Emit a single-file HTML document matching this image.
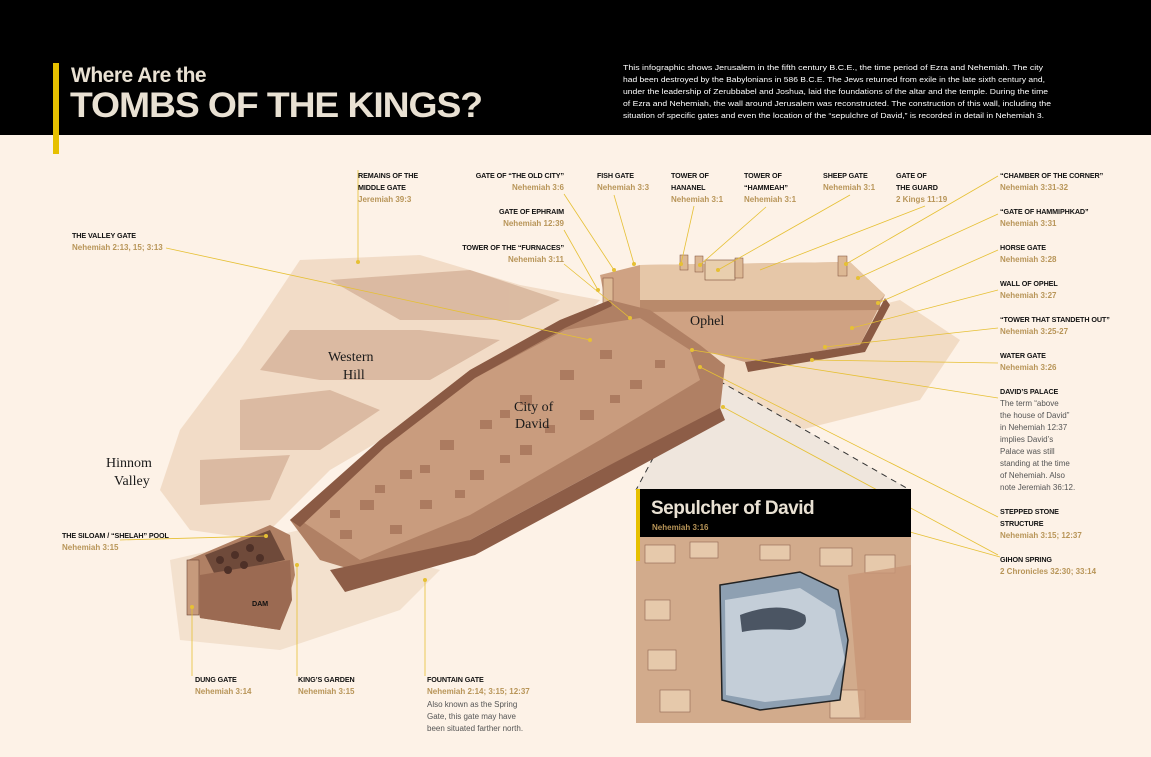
<!DOCTYPE html>
<html><head><meta charset="utf-8"><style>
html,body{margin:0;padding:0;background:#fdf2e7;}
svg{display:block}
.h{font-family:"Liberation Sans",sans-serif;font-weight:bold;font-size:7.2px;fill:#111;letter-spacing:-0.1px}
.r{font-family:"Liberation Sans",sans-serif;font-weight:bold;font-size:8px;fill:#b89558}
.b{font-family:"Liberation Sans",sans-serif;font-size:8px;fill:#555}
.p{font-family:"Liberation Serif",serif;font-size:14px;fill:#1a1a1a}
.l{stroke:#e6c034;stroke-width:0.8;fill:none}
.d{fill:#e6c034}
</style></head><body>
<svg width="1151" height="757" viewBox="0 0 1151 757" xmlns="http://www.w3.org/2000/svg">
<rect width="1151" height="757" fill="#fdf2e7"/>
<rect width="1151" height="135" fill="#000"/>
<rect x="53" y="63" width="6" height="91" fill="#e6c000"/>
<text x="71" y="82" font-family="Liberation Sans,sans-serif" font-weight="bold" font-size="21" fill="#e9e1d3" letter-spacing="-0.5">Where Are the</text>
<text x="70" y="117" font-family="Liberation Sans,sans-serif" font-weight="bold" font-size="35" fill="#e9e1d3" letter-spacing="-1" textLength="412" lengthAdjust="spacingAndGlyphs">TOMBS OF THE KINGS?</text>
<g font-family="Liberation Sans,sans-serif" font-size="7.6" fill="#fff">
<text x="623" y="70" textLength="420" lengthAdjust="spacingAndGlyphs">This infographic shows Jerusalem in the fifth century B.C.E., the time period of Ezra and Nehemiah. The city</text>
<text x="623" y="82" textLength="422" lengthAdjust="spacingAndGlyphs">had been destroyed by the Babylonians in 586 B.C.E. The Jews returned from exile in the late sixth century and,</text>
<text x="623" y="94" textLength="425" lengthAdjust="spacingAndGlyphs">under the leadership of Zerubbabel and Joshua, laid the foundations of the altar and the temple. During the time</text>
<text x="623" y="106" textLength="428" lengthAdjust="spacingAndGlyphs">of Ezra and Nehemiah, the wall around Jerusalem was reconstructed. The construction of this wall, including the</text>
<text x="623" y="118" textLength="421" lengthAdjust="spacingAndGlyphs">situation of specific gates and even the location of the “sepulchre of David,” is recorded in detail in Nehemiah 3.</text>
</g>

<!-- terrain -->
<path d="M300,260 L420,255 L520,285 L600,300 L560,340 L450,400 L330,470 L260,540 L190,530 L160,490 L180,430 L240,350 Z" fill="#ecd3b9" opacity="0.7"/>
<g fill="#c9a084" opacity="0.55">
<path d="M330,280 L470,270 L560,300 L520,320 L400,320 Z"/>
<path d="M290,330 L420,330 L500,340 L430,380 L320,380 L260,370 Z"/>
<path d="M240,400 L330,390 L380,410 L320,450 L240,450 Z"/>
<path d="M200,460 L290,455 L270,500 L200,505 Z"/>
</g>
<path d="M700,350 L900,300 L960,340 L920,400 L800,430 L730,420 Z" fill="#efd6bd" opacity="0.8"/>
<path d="M170,560 L300,530 L440,570 L400,610 L280,650 L180,640 Z" fill="#ead0b6" opacity="0.5"/>
<!-- callout cone -->
<path d="M700,370 L910,490 L636,490 Z" fill="#efe6dd"/>
<path d="M700,370 L910,490 M700,370 L636,490" stroke="#333" stroke-width="1" stroke-dasharray="6,5" fill="none"/>

<!-- temple enclosure -->
<path d="M600,275 L640,265 L850,262 L885,295 L860,345 L745,362 L700,350 L640,335 L605,300 Z" fill="#cfa283"/>
<path d="M640,265 L850,262 L885,295 L880,300 L640,300 Z" fill="#e6c7a8"/>
<path d="M640,300 L880,300 L880,310 L640,312 Z" fill="#b98a6b"/>
<path d="M745,362 L860,345 L885,298 L890,305 L865,352 L748,372 Z" fill="#8a5a44"/>
<rect x="705" y="260" width="30" height="20" fill="#e9cfae" stroke="#7a4b36" stroke-width="0.6"/>
<rect x="680" y="255" width="8" height="15" fill="#dcb894" stroke="#7a4b36" stroke-width="0.5"/>
<rect x="695" y="256" width="8" height="16" fill="#dcb894" stroke="#7a4b36" stroke-width="0.5"/>
<rect x="735" y="258" width="8" height="20" fill="#dcb894" stroke="#7a4b36" stroke-width="0.5"/>
<rect x="838" y="256" width="9" height="20" fill="#dcb894" stroke="#7a4b36" stroke-width="0.5"/>
<rect x="603" y="278" width="10" height="25" fill="#dcb894" stroke="#7a4b36" stroke-width="0.5"/>

<!-- main city -->
<path d="M290,520 L380,440 L470,370 L560,320 L610,300 L650,310 L700,345 L725,365 L720,410 L600,470 L470,540 L370,575 L320,560 Z" fill="#b08064"/>
<path d="M300,520 L385,445 L475,378 L565,330 L640,318 L690,350 L700,380 L600,440 L470,515 L360,560 Z" fill="#c99c7e"/>
<g fill="#a06e54" opacity="0.7">
<rect x="360" y="500" width="14" height="10"/><rect x="400" y="470" width="12" height="9"/><rect x="440" y="440" width="14" height="10"/><rect x="480" y="420" width="12" height="9"/><rect x="520" y="395" width="12" height="10"/><rect x="560" y="370" width="14" height="10"/><rect x="600" y="350" width="12" height="9"/><rect x="420" y="500" width="12" height="9"/><rect x="470" y="470" width="14" height="10"/><rect x="520" y="445" width="12" height="10"/><rect x="580" y="410" width="14" height="10"/><rect x="630" y="380" width="12" height="9"/><rect x="340" y="530" width="12" height="9"/><rect x="390" y="525" width="12" height="9"/>
<rect x="330" y="510" width="10" height="8"/><rect x="375" y="485" width="10" height="8"/><rect x="455" y="490" width="10" height="8"/><rect x="500" y="455" width="10" height="8"/><rect x="545" y="425" width="10" height="8"/><rect x="610" y="395" width="10" height="8"/><rect x="655" y="360" width="10" height="8"/><rect x="500" y="410" width="10" height="8"/><rect x="420" y="465" width="10" height="8"/>
</g>
<path d="M330,570 L470,540 L600,470 L720,408 L725,420 L605,485 L475,555 L345,592 Z" fill="#8d5d47"/>
<path d="M290,520 L380,440 L470,370 L560,320 L610,300 L612,306 L565,328 L475,378 L385,447 L300,527 Z" fill="#8a5a44"/>
<!-- dam pool -->
<path d="M188,560 L270,525 L290,535 L295,575 L280,630 L200,618 Z" fill="#b08064"/>
<path d="M205,555 L270,530 L285,560 L215,575 Z" fill="#6f4a3a"/>
<path d="M200,575 L290,560 L292,600 L280,630 L200,618 Z" fill="#9b6a52"/>
<rect x="187" y="560" width="12" height="55" fill="#c69a7c" stroke="#6d4535" stroke-width="0.6"/>
<g fill="#4e3027"><circle cx="220" cy="560" r="4"/><circle cx="235" cy="555" r="4"/><circle cx="250" cy="548" r="4"/><circle cx="228" cy="570" r="4"/><circle cx="244" cy="565" r="4"/><circle cx="260" cy="558" r="4"/></g>

<!-- place names -->
<text class="p" x="690" y="325">Ophel</text>
<text class="p" x="328" y="361">Western</text><text class="p" x="343" y="379">Hill</text>
<text class="p" x="514" y="411">City of</text><text class="p" x="515" y="428">David</text>
<text class="p" x="106" y="467">Hinnom</text><text class="p" x="114" y="485">Valley</text>
<text class="h" x="252" y="606">DAM</text>

<!-- leader lines -->
<g class="l">
<line x1="358" y1="170" x2="358" y2="262"/>
<line x1="564" y1="194" x2="614" y2="270"/>
<line x1="614" y1="195" x2="634" y2="264"/>
<line x1="694" y1="206" x2="681" y2="264"/>
<line x1="766" y1="207" x2="700" y2="265"/>
<line x1="850" y1="195" x2="718" y2="270"/>
<line x1="925" y1="206" x2="760" y2="270"/>
<line x1="998" y1="176" x2="846" y2="264"/>
<line x1="998" y1="214" x2="858" y2="278"/>
<line x1="998" y1="250" x2="878" y2="303"/>
<line x1="998" y1="290" x2="852" y2="328"/>
<line x1="998" y1="328" x2="825" y2="347"/>
<line x1="998" y1="363" x2="812" y2="360"/>
<line x1="998" y1="398" x2="692" y2="350"/>
<line x1="998" y1="517" x2="700" y2="367"/>
<line x1="998" y1="555" x2="723" y2="407"/>
<line x1="564" y1="230" x2="598" y2="290"/>
<line x1="564" y1="264" x2="630" y2="318"/>
<line x1="166" y1="248" x2="590" y2="340"/>
<line x1="120" y1="540" x2="266" y2="536"/>
<line x1="192" y1="607" x2="192" y2="676"/>
<line x1="297" y1="565" x2="297" y2="676"/>
<line x1="425" y1="580" x2="425" y2="676"/>
<line x1="910" y1="532" x2="1000" y2="557"/>
</g>
<g class="d">
<circle cx="614" cy="270" r="2"/><circle cx="634" cy="264" r="2"/><circle cx="681" cy="264" r="2"/><circle cx="700" cy="265" r="2"/><circle cx="718" cy="270" r="2"/><circle cx="846" cy="264" r="2"/><circle cx="858" cy="278" r="2"/><circle cx="878" cy="303" r="2"/><circle cx="852" cy="328" r="2"/><circle cx="825" cy="347" r="2"/><circle cx="812" cy="360" r="2"/><circle cx="692" cy="350" r="2"/><circle cx="700" cy="367" r="2"/><circle cx="723" cy="407" r="2"/><circle cx="598" cy="290" r="2"/><circle cx="630" cy="318" r="2"/><circle cx="590" cy="340" r="2"/><circle cx="266" cy="536" r="2"/><circle cx="192" cy="607" r="2"/><circle cx="297" cy="565" r="2"/><circle cx="425" cy="580" r="2"/><circle cx="358" cy="262" r="2"/>
</g>

<!-- labels -->
<text class="h" x="358" y="178">REMAINS OF THE</text><text class="h" x="358" y="190">MIDDLE GATE</text><text class="r" x="358" y="202">Jeremiah 39:3</text>
<text class="h" x="564" y="178" text-anchor="end">GATE OF “THE OLD CITY”</text><text class="r" x="564" y="190" text-anchor="end">Nehemiah 3:6</text>
<text class="h" x="564" y="214" text-anchor="end">GATE OF EPHRAIM</text><text class="r" x="564" y="226" text-anchor="end">Nehemiah 12:39</text>
<text class="h" x="564" y="250" text-anchor="end">TOWER OF THE “FURNACES”</text><text class="r" x="564" y="262" text-anchor="end">Nehemiah 3:11</text>
<text class="h" x="597" y="178">FISH GATE</text><text class="r" x="597" y="190">Nehemiah 3:3</text>
<text class="h" x="671" y="178">TOWER OF</text><text class="h" x="671" y="190">HANANEL</text><text class="r" x="671" y="202">Nehemiah 3:1</text>
<text class="h" x="744" y="178">TOWER OF</text><text class="h" x="744" y="190">“HAMMEAH”</text><text class="r" x="744" y="202">Nehemiah 3:1</text>
<text class="h" x="823" y="178">SHEEP GATE</text><text class="r" x="823" y="190">Nehemiah 3:1</text>
<text class="h" x="896" y="178">GATE OF</text><text class="h" x="896" y="190">THE GUARD</text><text class="r" x="896" y="202">2 Kings 11:19</text>
<text class="h" x="1000" y="178">“CHAMBER OF THE CORNER”</text><text class="r" x="1000" y="190">Nehemiah 3:31-32</text>
<text class="h" x="1000" y="214">“GATE OF HAMMIPHKAD”</text><text class="r" x="1000" y="226">Nehemiah 3:31</text>
<text class="h" x="1000" y="250">HORSE GATE</text><text class="r" x="1000" y="262">Nehemiah 3:28</text>
<text class="h" x="1000" y="286">WALL OF OPHEL</text><text class="r" x="1000" y="298">Nehemiah 3:27</text>
<text class="h" x="1000" y="322">“TOWER THAT STANDETH OUT”</text><text class="r" x="1000" y="334">Nehemiah 3:25-27</text>
<text class="h" x="1000" y="358">WATER GATE</text><text class="r" x="1000" y="370">Nehemiah 3:26</text>
<text class="h" x="1000" y="394">DAVID’S PALACE</text>
<text class="b" x="1000" y="406">The term “above</text><text class="b" x="1000" y="418">the house of David”</text><text class="b" x="1000" y="430">in Nehemiah 12:37</text><text class="b" x="1000" y="442">implies David’s</text><text class="b" x="1000" y="454">Palace was still</text><text class="b" x="1000" y="466">standing at the time</text><text class="b" x="1000" y="478">of Nehemiah. Also</text><text class="b" x="1000" y="490">note Jeremiah 36:12.</text>
<text class="h" x="1000" y="514">STEPPED STONE</text><text class="h" x="1000" y="526">STRUCTURE</text><text class="r" x="1000" y="538">Nehemiah 3:15; 12:37</text>
<text class="h" x="1000" y="562">GIHON SPRING</text><text class="r" x="1000" y="574">2 Chronicles 32:30; 33:14</text>
<text class="h" x="72" y="238">THE VALLEY GATE</text><text class="r" x="72" y="250">Nehemiah 2:13, 15; 3:13</text>
<text class="h" x="62" y="538">THE SILOAM / “SHELAH” POOL</text><text class="r" x="62" y="550">Nehemiah 3:15</text>
<text class="h" x="195" y="682">DUNG GATE</text><text class="r" x="195" y="694">Nehemiah 3:14</text>
<text class="h" x="298" y="682">KING’S GARDEN</text><text class="r" x="298" y="694">Nehemiah 3:15</text>
<text class="h" x="427" y="682">FOUNTAIN GATE</text><text class="r" x="427" y="694">Nehemiah 2:14; 3:15; 12:37</text>
<text class="b" x="427" y="707">Also known as the Spring</text><text class="b" x="427" y="719">Gate, this gate may have</text><text class="b" x="427" y="731">been situated farther north.</text>

<!-- sepulcher box -->
<rect x="636" y="537" width="275" height="186" fill="#d2ab8c"/>
<g fill="#e6c9ab" stroke="#8f6450" stroke-width="0.6">
<rect x="645" y="545" width="30" height="18"/><rect x="690" y="542" width="28" height="16"/><rect x="760" y="545" width="30" height="15"/><rect x="820" y="548" width="32" height="18"/><rect x="865" y="555" width="30" height="18"/><rect x="645" y="600" width="25" height="20"/><rect x="648" y="650" width="28" height="20"/><rect x="660" y="690" width="30" height="22"/><rect x="830" y="690" width="35" height="28"/>
</g>
<path d="M848,575 L911,565 L911,720 L860,720 Z" fill="#c89677" opacity="0.8"/>
<path d="M720,585 L800,572 L838,590 L848,640 L840,700 L760,710 L722,700 Z" fill="#8ea0b2"/>
<path d="M725,600 L800,588 L835,610 L845,660 L830,695 L765,702 L726,695 Z" fill="#c4ced8"/>
<path d="M740,615 Q780,600 805,615 Q810,628 790,630 Q760,628 742,632 Z" fill="#4b5563"/>
<path d="M720,585 L800,572 L838,590 L848,640 L840,700 L760,710 L722,700 Z" fill="none" stroke="#222" stroke-width="1.5"/>
<rect x="636" y="489" width="275" height="48" fill="#000"/>
<rect x="636" y="489" width="4" height="72" fill="#e6c000"/>
<text x="651" y="514" font-family="Liberation Sans,sans-serif" font-weight="bold" font-size="19" fill="#e9e1d3" letter-spacing="-0.5">Sepulcher of David</text>
<text class="r" x="652" y="530">Nehemiah 3:16</text>
</svg>
</body></html>
